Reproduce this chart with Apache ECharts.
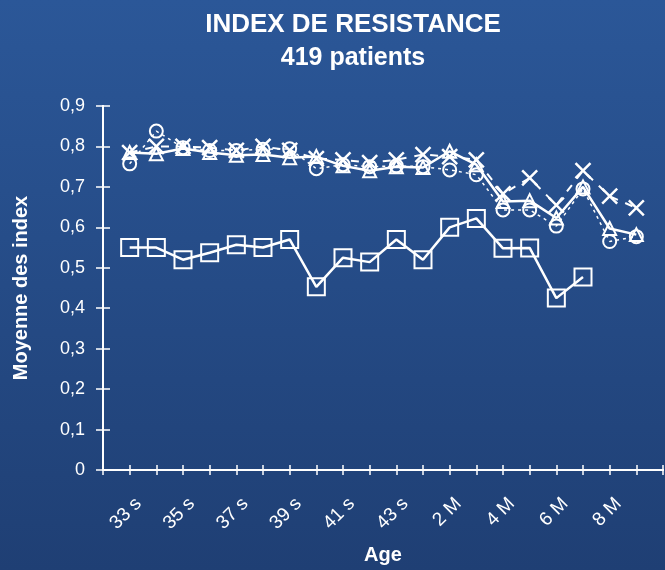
<!DOCTYPE html>
<html>
<head>
<meta charset="utf-8">
<title>Index de résistance</title>
<script src="https://cdn.jsdelivr.net/npm/echarts@6/dist/echarts.min.js"></script>
<style>
  html, body { margin: 0; padding: 0; }
  #chart { width: 665px; height: 570px; }
</style>
</head>
<body>
<div id="chart"></div>
<script>
// Age categories: empty slot at the origin and at the far end of the axis
const categories = ['', '33 s', '34 s', '35 s', '36 s', '37 s', '38 s', '39 s', '40 s', '41 s',
  '42 s', '43 s', '1 M', '2 M', '3 M', '4 M', '5 M', '6 M', '7 M', '8 M', '9 M', ''];

// Mean resistance index per age, one array per series
const squareValues = [null, 0.55, 0.55, 0.52, 0.537, 0.557, 0.55, 0.57, 0.453, 0.525, 0.514,
  0.57, 0.52, 0.6, 0.622, 0.548, 0.549, 0.425, 0.477, null, null, null];
const triangleValues = [null, 0.785, 0.782, 0.795, 0.785, 0.778, 0.78, 0.772, 0.775, 0.752, 0.74,
  0.75, 0.748, 0.788, 0.755, 0.664, 0.666, 0.623, 0.70, 0.597, 0.582, null];
const circleValues = [null, 0.757, 0.838, 0.797, 0.79, 0.79, 0.793, 0.794, 0.745, 0.755, 0.75,
  0.752, 0.75, 0.742, 0.73, 0.643, 0.643, 0.603, 0.695, 0.565, 0.577, null];
const crossValues = [null, 0.785, 0.80, 0.80, 0.797, 0.79, 0.80, 0.79, 0.77, 0.767, 0.76,
  0.767, 0.78, 0.775, 0.767, 0.683, 0.722, 0.655, 0.74, 0.677, 0.648, null];

// Y tick values
const yMin = 0, yMax = 0.9, yStep = 0.1;

const white = '#ffffff';
const fontFamily = '"Liberation Sans", Arial, sans-serif';
const gridBox = { left: 103, right: 2, top: 106, bottom: 100, containLabel: false, outerBoundsMode: 'none' };

const hollow = { color: 'rgba(0,0,0,0)', borderColor: white, borderWidth: 2 };

const chart = echarts.init(document.getElementById('chart'), null, { renderer: 'canvas' });

chart.setOption({
  backgroundColor: {
    type: 'linear', x: 0, y: 0, x2: 0, y2: 1,
    colorStops: [
      { offset: 0, color: '#2b5798' },
      { offset: 1, color: '#1f3f74' }
    ]
  },
  animation: false,
  title: {
    text: 'INDEX DE RESISTANCE',
    subtext: '419 patients',
    left: 348,
    top: 7,
    textAlign: 'center',
    itemGap: 8,
    textStyle: { color: white, fontSize: 26, fontWeight: 'bold', fontFamily: fontFamily },
    subtextStyle: { color: white, fontSize: 25, fontWeight: 'bold', fontFamily: fontFamily }
  },
  grid: [
    Object.assign({}, gridBox),
    Object.assign({}, gridBox)
  ],
  xAxis: [
    {
      // tick labels and outward ticks
      type: 'category',
      gridIndex: 0,
      data: categories,
      boundaryGap: false,
      axisLine: { lineStyle: { color: white, width: 2 } },
      axisTick: { interval: 0, length: 5, lineStyle: { color: white, width: 1.5 } },
      axisLabel: {
        interval: function (i) { return i % 2 === 1; },
        rotate: 45,
        margin: 22,
        verticalAlign: 'top',
        padding: [3, 0, 0, 0],
        color: white,
        fontSize: 19,
        fontFamily: fontFamily
      },
      splitLine: { show: false }
    },
    {
      // inward ticks and axis title
      type: 'category',
      gridIndex: 1,
      data: categories,
      boundaryGap: false,
      name: 'Age',
      nameLocation: 'middle',
      nameGap: 75,
      nameTextStyle: { color: white, fontSize: 20, fontWeight: 'bold', fontFamily: fontFamily },
      axisLine: { show: true, lineStyle: { color: white, width: 2 } },
      axisTick: { show: true, interval: 0, inside: true, length: 5, lineStyle: { color: white, width: 1.5 } },
      axisLabel: { show: false },
      splitLine: { show: false }
    }
  ],
  yAxis: [
    {
      type: 'value',
      gridIndex: 0,
      min: yMin,
      max: yMax,
      interval: yStep,
      axisLine: { show: true, lineStyle: { color: white, width: 2 } },
      axisTick: { show: true, length: 7, lineStyle: { color: white, width: 1.5 } },
      axisLabel: {
        color: white,
        fontSize: 18,
        margin: 18,
        fontFamily: fontFamily,
        formatter: function (v) { return v === 0 ? '0' : v.toFixed(1).replace('.', ','); }
      },
      splitLine: { show: false }
    },
    {
      type: 'value',
      gridIndex: 1,
      min: yMin,
      max: yMax,
      interval: yStep,
      name: 'Moyenne des index',
      nameLocation: 'middle',
      nameGap: 72,
      nameTextStyle: { color: white, fontSize: 20, fontWeight: 'bold', fontFamily: fontFamily },
      axisLine: { show: true, lineStyle: { color: white, width: 2 } },
      axisTick: { show: true, inside: true, length: 7, lineStyle: { color: white, width: 1.5 } },
      axisLabel: { show: false },
      splitLine: { show: false }
    }
  ],
  series: [
    {
      name: 'carrés',
      type: 'line',
      data: squareValues,
      symbol: 'rect',
      symbolSize: 17,
      showAllSymbol: true,
      itemStyle: hollow,
      lineStyle: { color: white, width: 2.5, type: 'solid' },
      z: 3
    },
    {
      name: 'triangles',
      type: 'line',
      data: triangleValues,
      symbol: 'triangle',
      symbolSize: 13,
      showAllSymbol: true,
      itemStyle: hollow,
      lineStyle: { color: white, width: 2.5, type: 'solid' },
      z: 4
    },
    {
      name: 'cercles',
      type: 'line',
      data: circleValues,
      symbol: 'circle',
      symbolSize: 13,
      showAllSymbol: true,
      itemStyle: hollow,
      lineStyle: { color: white, width: 1.5, type: [3, 4] },
      z: 3
    },
    {
      name: 'croix',
      type: 'line',
      data: crossValues,
      symbol: 'path://M0,0L10,10M10,0L0,10',
      symbolSize: 15,
      showAllSymbol: true,
      itemStyle: { color: 'rgba(0,0,0,0)', borderColor: white, borderWidth: 2.5 },
      lineStyle: { color: white, width: 2, type: [8, 8] },
      z: 5
    }
  ]
});
</script>
</body>
</html>
